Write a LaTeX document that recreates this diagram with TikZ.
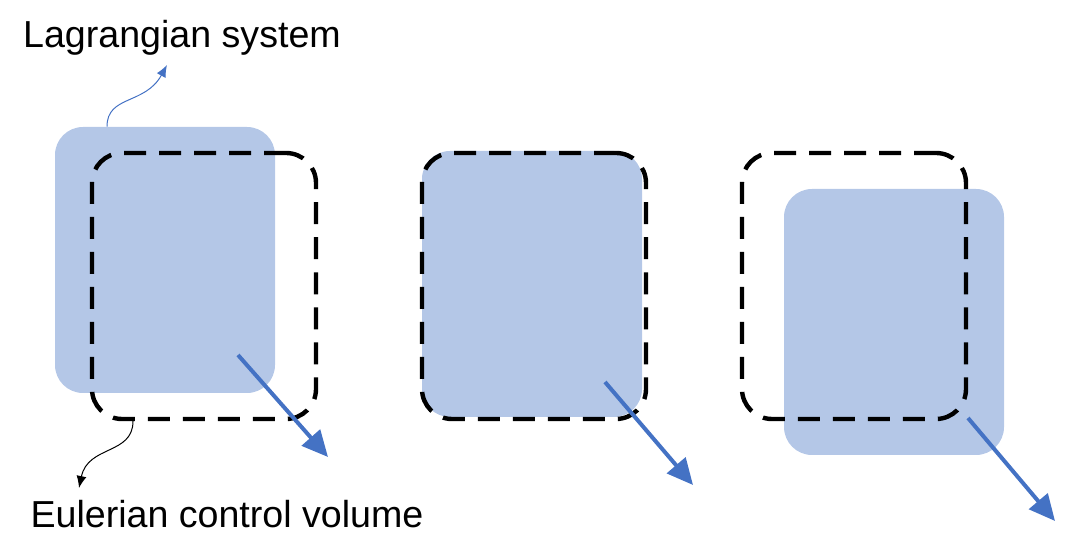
\documentclass[tikz,border=0pt]{standalone}
\usepackage{fontspec}
\setmainfont{Liberation Sans}
\usetikzlibrary{positioning,calc,arrows.meta}
\definecolor{sysfill}{RGB}{180,199,231}
\definecolor{flowblue}{RGB}{68,114,196}
\tikzset{>=Stealth}

\begin{document}
\begin{tikzpicture}[x=0.5pt,y=-0.5pt,
  system/.style={fill=sysfill,rounded corners=14pt,minimum width=110pt,minimum height=133pt,inner sep=0pt},
  volume/.style={draw,line width=2.2pt,dash pattern=on 11pt off 6.5pt,rounded corners=15pt,minimum width=112pt,minimum height=133pt,inner sep=0pt},
  flow/.style={draw=flowblue,line width=2pt,-{Triangle[length=13pt,width=12pt]}},
  caption/.style={font=\fontsize{18.8pt}{22pt}\selectfont,anchor=base},
  pointer/.style={line width=0.5pt,-{Latex[length=6pt,width=5pt]}}]
\useasboundingbox (0,0) rectangle (1081,560);
\node[system] (lag1) at (165,260) {};
\node[system] (lag2) at (532,284) {};
\node[system] (lag3) at (894,322) {};
\node[volume] (cv1) at (204,286) {};
\node[volume] (cv2) at (534,286) {};
\node[volume] (cv3) at (854,286) {};
\node[caption] (lagtext) at (182,48) {Lagrangian system};
\node[caption] (eultext) at (227,528) {Eulerian control volume};
\coordinate (v1s) at (238,355);
\coordinate (v1e) at (328,457);
\coordinate (v2s) at (605,382);
\coordinate (v2e) at (693,485);
\coordinate (v3s) at (968,418);
\coordinate (v3e) at (1055,521);
\draw[flow] (v1s) -- (v1e);
\draw[flow] (v2s) -- (v2e);
\draw[flow] (v3s) -- (v3e);
\coordinate (lagfoot) at ($(lag1.north)+(-58,0)$);
\coordinate (lagtip) at (167,65);
\draw[pointer,flowblue] (lagfoot) .. controls (107,95) and (145,105) .. (lagtip);
\coordinate (eulfoot) at ($(cv1.south)+(-71,0)$);
\coordinate (eultip) at (79,488);
\draw[pointer] (eulfoot) .. controls (133,455) and (88,445) .. (eultip);
\end{tikzpicture}
\end{document}
